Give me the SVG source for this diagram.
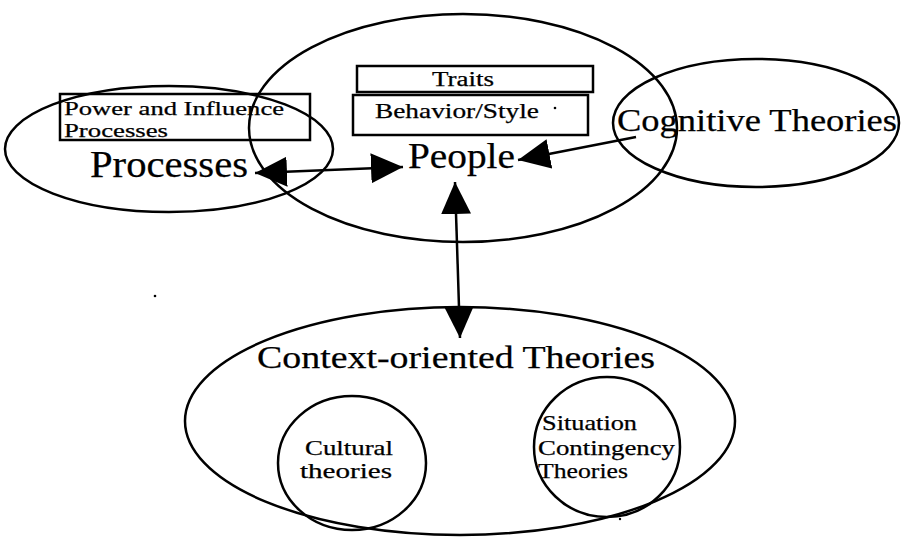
<svg xmlns="http://www.w3.org/2000/svg" width="901" height="544" viewBox="0 0 901 544">
<style>
.sh{fill:none;stroke:#000;stroke-width:2.5}
.bx{fill:none;stroke:#000;stroke-width:2.5}
text{font-family:"Liberation Serif","Times New Roman",serif;fill:#000;stroke:#000;stroke-width:0.25}
.ln{fill:none;stroke:#000;stroke-width:2.5}
</style>
<defs>
<marker id="ah" viewBox="0 0 32 30" refX="32" refY="15" markerWidth="32" markerHeight="30" markerUnits="userSpaceOnUse" orient="auto-start-reverse">
<path d="M0,0 L32,15 L0,30 z" fill="#000"/>
</marker>
</defs>
<rect width="901" height="544" fill="#fff"/>
<g id="processes">
<ellipse class="sh" cx="169" cy="149" rx="164" ry="63"/>
<rect class="bx" x="60" y="94" width="250" height="46"/>
<text x="64" y="115" font-size="19" textLength="220" lengthAdjust="spacingAndGlyphs">Power and Influence</text>
<text x="64" y="137" font-size="19" textLength="104" lengthAdjust="spacingAndGlyphs">Processes</text>
<text x="90" y="177" font-size="37" textLength="158" lengthAdjust="spacingAndGlyphs">Processes</text>
</g>
<g id="people">
<ellipse class="sh" cx="463" cy="128" rx="214" ry="114"/>
<rect class="bx" x="357" y="66" width="236" height="26"/>
<text x="432" y="86" font-size="20" textLength="62" lengthAdjust="spacingAndGlyphs">Traits</text>
<rect class="bx" x="353" y="95" width="235" height="40"/>
<text x="375" y="118" font-size="21" textLength="164" lengthAdjust="spacingAndGlyphs">Behavior/Style</text>
<circle cx="555" cy="108" r="1.3" fill="#000"/>
<text x="408" y="168" font-size="35" textLength="107" lengthAdjust="spacingAndGlyphs">People</text>
</g>
<g id="cognitive">
<ellipse class="sh" cx="756" cy="123" rx="143" ry="64"/>
<text x="617" y="131" font-size="31" textLength="280" lengthAdjust="spacingAndGlyphs">Cognitive Theories</text>
</g>
<g id="context">
<ellipse class="sh" cx="460" cy="421" rx="275" ry="114"/>
<text x="257" y="368" font-size="32" textLength="398" lengthAdjust="spacingAndGlyphs">Context-oriented Theories</text>
</g>
<g id="cultural">
<ellipse class="sh" cx="352" cy="463" rx="74" ry="67"/>
<text x="305" y="455" font-size="21" textLength="88" lengthAdjust="spacingAndGlyphs">Cultural</text>
<text x="300" y="478" font-size="21" textLength="92" lengthAdjust="spacingAndGlyphs">theories</text>
</g>
<g id="situation">
<ellipse class="sh" cx="607" cy="447" rx="73" ry="70"/>
<text x="542" y="430" font-size="21" textLength="95" lengthAdjust="spacingAndGlyphs">Situation</text>
<text x="538" y="455" font-size="21" textLength="137" lengthAdjust="spacingAndGlyphs">Contingency</text>
<text x="538" y="478" font-size="21" textLength="90" lengthAdjust="spacingAndGlyphs">Theories</text>
</g>
<g id="connectors">
<line class="ln" x1="255" y1="173" x2="403" y2="167" marker-start="url(#ah)" marker-end="url(#ah)"/>
<line class="ln" x1="636" y1="137" x2="518" y2="160" marker-end="url(#ah)"/>
<line class="ln" x1="455" y1="182" x2="460" y2="338" marker-start="url(#ah)" marker-end="url(#ah)"/>
</g>
<circle cx="155" cy="296" r="1.3" fill="#000"/>
<circle cx="620" cy="519" r="1.2" fill="#000"/>
</svg>
